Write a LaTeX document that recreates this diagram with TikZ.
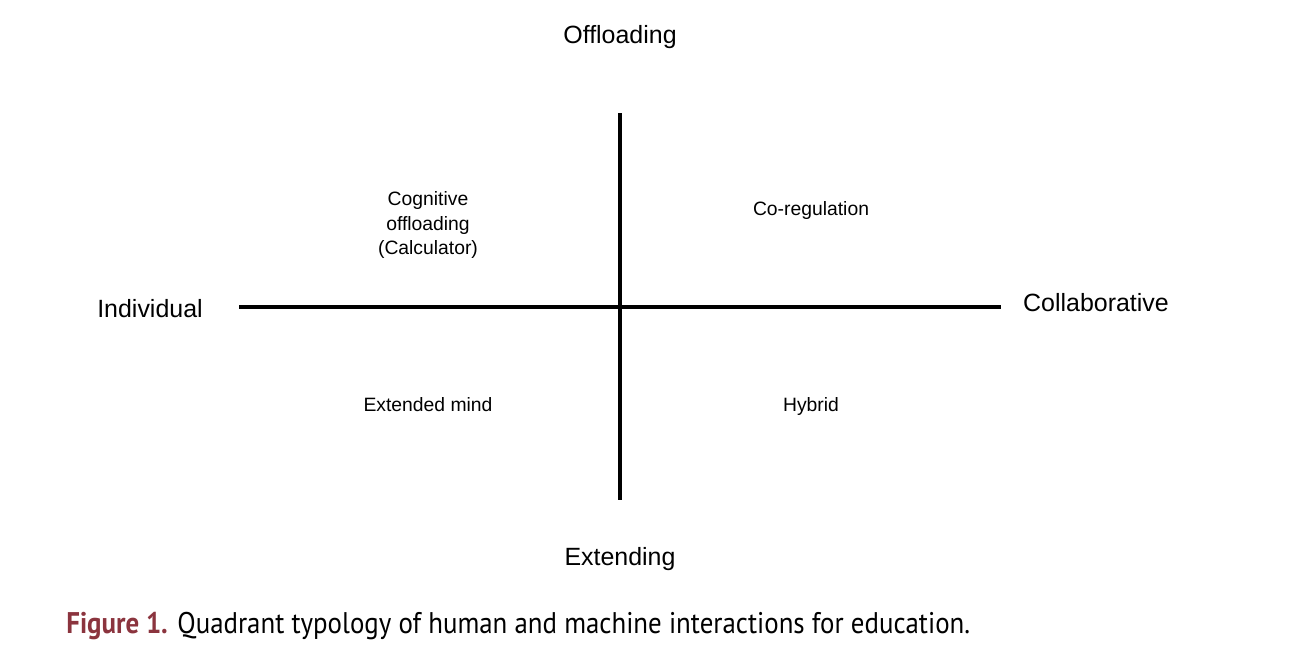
\documentclass[tikz,border=0pt]{standalone}
\usepackage{fontspec}
\setmainfont{Liberation Sans}
\newfontfamily\capfont[FakeStretch=0.9]{PT Sans}
\usepackage{tikz}
\usetikzlibrary{positioning}
\definecolor{figred}{RGB}{139,52,62}
\tikzset{
  axislabel/.style={font=\fontsize{14.2}{17}\selectfont, anchor=base, inner sep=0},
  quadlabel/.style={font=\fontsize{11}{14.2}\selectfont, align=center, inner sep=0},
  axisline/.style={line width=2.3pt}
}

\begin{document}
\begin{tikzpicture}[x=0.02cm, y=-0.02cm]
      \useasboundingbox (0,0) rectangle (1290,664);
      % Axes
      \coordinate (top) at (620,113);
      \coordinate (bottom) at (620,500);
      \coordinate (left) at (239,307);
      \coordinate (right) at (1001,307);
      \draw[axisline] (top) -- (bottom);
      \draw[axisline] (left) -- (right);
      % Axis labels
      \node[axislabel] (offload) at (620,43) {Offloading};
      \node[axislabel] (extend) at (620,565) {Extending};
      \node[axislabel] (indiv) at (150,317) {Individual};
      \node[axislabel] (collab) at (1096,311) {Collaborative};
      % Quadrants
      \node[quadlabel] (cogoff) at (428,225) {Cognitive\\offloading\\(Calculator)};
      \node[quadlabel, anchor=base] (coreg) at (811,215) {Co-regulation};
      \node[quadlabel, anchor=base] (extmind) at (428,411) {Extended mind};
      \node[quadlabel, anchor=base] (hybrid) at (811,411) {Hybrid};
      % Caption
      \node[anchor=base west, inner sep=0, font=\capfont\fontsize{17}{20}\selectfont] (caption) at (66,633)
        {\textcolor{figred}{\bfseries Figure 1.} Quadrant typology of human and machine interactions for education.};
\end{tikzpicture}
\end{document}
